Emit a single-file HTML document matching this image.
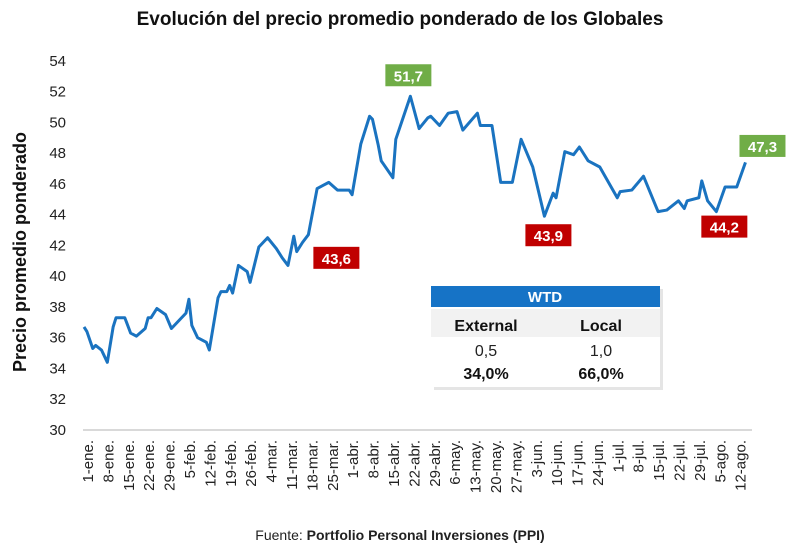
<!DOCTYPE html>
<html><head><meta charset="utf-8"><style>
body{margin:0;background:#fff;font-family:"Liberation Sans",sans-serif;}
svg{display:block}
</style></head><body>
<svg id="c" width="800" height="554" viewBox="0 0 800 554" xmlns="http://www.w3.org/2000/svg">
<text x="400" y="25" text-anchor="middle" font-size="19" font-weight="bold" fill="#111">Evolución del precio promedio ponderado de los Globales</text>
<text transform="translate(26,252) rotate(-90)" text-anchor="middle" font-size="18" font-weight="bold" fill="#111">Precio promedio ponderado</text>
<line x1="83" y1="430" x2="752" y2="430" stroke="#d9d9d9" stroke-width="2"/>
<g id="yt"></g><g id="xt"></g><g id="ln"></g><g id="an"></g>
<g>
<rect x="434" y="289" width="229" height="101" fill="#ccc" opacity="0.5"/>
<rect x="431" y="286" width="229" height="101" fill="#fff"/>
<rect x="431" y="286" width="229" height="21" fill="#1673c6"/>
<text x="545" y="302" text-anchor="middle" font-size="15" font-weight="bold" fill="#fff">WTD</text>
<rect x="431" y="309" width="229" height="28" fill="#f2f2f2"/>
<text x="486" y="331" text-anchor="middle" font-size="16" font-weight="bold" fill="#111">External</text>
<text x="601" y="331" text-anchor="middle" font-size="16" font-weight="bold" fill="#111">Local</text>
<text x="486" y="356" text-anchor="middle" font-size="16" fill="#222">0,5</text>
<text x="601" y="356" text-anchor="middle" font-size="16" fill="#222">1,0</text>
<text x="486" y="379" text-anchor="middle" font-size="16" font-weight="bold" fill="#111">34,0%</text>
<text x="601" y="379" text-anchor="middle" font-size="16" font-weight="bold" fill="#111">66,0%</text>
</g>
<text x="400" y="540" text-anchor="middle" font-size="14" fill="#222">Fuente: <tspan font-weight="bold">Portfolio Personal Inversiones (PPI)</tspan></text>
</svg>
<script>
const days=[0,1,3,4,6,8,10,11,14,16,18,21,22,23,25,28,30,33,35,36,37,39,42,43,46,47,49,50,51,53,56,57,60,63,66,68,70,72,73,75,77,80,82,84,87,91,92,95,98,99,101,102,106,107,112,115,118,119,122,125,128,130,135,136,140,143,147,150,154,158,161,162,165,168,170,173,177,183,184,188,192,197,200,204,206,207,211,212,214,217,220,224,227];
const values=[36.7,36.4,35.3,35.5,35.2,34.4,36.7,37.3,37.3,36.3,36.1,36.6,37.3,37.3,37.9,37.5,36.6,37.2,37.6,38.5,36.8,36.0,35.7,35.2,38.6,39.0,39.0,39.4,38.9,40.7,40.3,39.6,41.9,42.5,41.8,41.2,40.7,42.6,41.6,42.2,42.7,45.7,45.9,46.1,45.6,45.6,45.3,48.6,50.4,50.2,48.5,47.5,46.4,48.9,51.7,49.6,50.3,50.4,49.8,50.6,50.7,49.5,50.6,49.8,49.8,46.1,46.1,48.9,47.1,43.9,45.4,45.1,48.1,47.9,48.4,47.5,47.1,45.1,45.5,45.6,46.5,44.2,44.3,44.9,44.4,44.9,45.1,46.2,44.9,44.2,45.8,45.8,47.4];
const yTicks=[30,32,34,36,38,40,42,44,46,48,50,52,54];
const xLabels=["1-ene.","8-ene.","15-ene.","22-ene.","29-ene.","5-feb.","12-feb.","19-feb.","26-feb.","4-mar.","11-mar.","18-mar.","25-mar.","1-abr.","8-abr.","15-abr.","22-abr.","29-abr.","6-may.","13-may.","20-may.","27-may.","3-jun.","10-jun.","17-jun.","24-jun.","1-jul.","8-jul.","15-jul.","22-jul.","29-jul.","5-ago.","12-ago."];
const annDays=[112,77,158,217,227];
const annValues=[51.7,43.6,43.9,44.2,47.3];
const annLabels=["51,7","43,6","43,9","44,2","47,3"];
const annKinds=["max","min","min","min","max"];
const annOff=[[-2,-21],[28,37],[4,19],[8,15],[17,-18]];
const NS="http://www.w3.org/2000/svg";
const y=v=>430-(v-30)*15.38;
const x=d=>84+d*2.914;
function mk(t,a,p){const e=document.createElementNS(NS,t);for(const k in a)e.setAttribute(k,a[k]);p.appendChild(e);return e;}
const yt=document.getElementById('yt');
yTicks.forEach(v=>{const t=mk('text',{x:66,y:y(v)+5,'text-anchor':'end','font-size':15,fill:'#222'},yt);t.textContent=v;

});
const xt=document.getElementById('xt');
xLabels.forEach((l,i)=>{const px=x(i*7)+9;const t=mk('text',{transform:`translate(${px},440) rotate(-90)`,'text-anchor':'end','font-size':15,fill:'#222'},xt);t.textContent=l;

});
const ln=document.getElementById('ln');
const p=mk('polyline',{points:days.map((d,i)=>x(d)+','+y(values[i])).join(' '),fill:'none',stroke:'#1a73c0','stroke-width':3,'stroke-linejoin':'round'},ln);


const an=document.getElementById('an');
annDays.forEach((d,i)=>{const cx=x(d)+annOff[i][0],cy=y(annValues[i])+annOff[i][1];
const g=mk('g',{},an);


mk('rect',{x:cx-23,y:cy-11,width:46,height:22,fill:annKinds[i]=='max'?'#70ad47':'#c00000'},g);
const t=mk('text',{x:cx,y:cy+6,'text-anchor':'middle','font-size':15,'font-weight':'bold',fill:'#fff'},g);t.textContent=annLabels[i];});
</script>
</body></html>
